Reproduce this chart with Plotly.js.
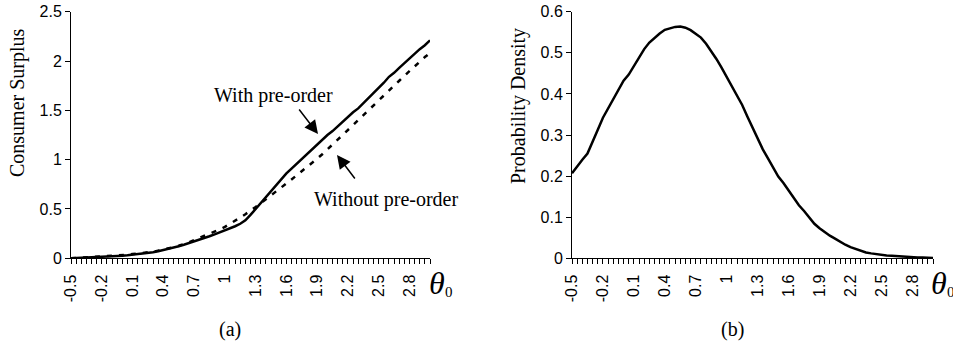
<!DOCTYPE html>
<html>
<head>
<meta charset="utf-8">
<script src="https://cdn.plot.ly/plotly-3.0.1.min.js"></script>
<style>html,body{margin:0;padding:0;background:#fff;}#chart{width:953px;height:345px;}</style>
</head>
<body>
<div id="chart"></div>
<script>
// Category values of theta_0 (x axis)
var theta = [-0.5,-0.45,-0.4,-0.35,-0.3,-0.25,-0.2,-0.15,-0.1,-0.05,
  0,0.05,0.1,0.15,0.2,0.25,0.3,0.35,0.4,0.45,
  0.5,0.55,0.6,0.65,0.7,0.75,0.8,0.85,0.9,0.95,
  1,1.05,1.1,1.15,1.2,1.25,1.3,1.35,1.4,1.45,
  1.5,1.55,1.6,1.65,1.7,1.75,1.8,1.85,1.9,1.95,
  2,2.05,2.1,2.15,2.2,2.25,2.3,2.35,2.4,2.45,
  2.5,2.55,2.6,2.65,2.7,2.75,2.8,2.85,2.9,2.95,3];

// Tick labels (every sixth category is labelled)
var tickLabelVals = [-0.5,-0.2,0.1,0.4,0.7,1,1.3,1.6,1.9,2.2,2.5,2.8];
var tickLabelText = ["-0.5","-0.2","0.1","0.4","0.7","1","1.3","1.6","1.9","2.2","2.5","2.8"];

// (a) Consumer surplus with pre-order (solid)
var withPreorder = [0.000,0.002,0.004,0.006,0.008,0.010,0.012,0.015,0.018,0.022,
  0.026,0.030,0.035,0.040,0.046,0.053,0.062,0.072,0.083,0.095,
  0.108,0.122,0.137,0.153,0.170,0.187,0.205,0.224,0.243,0.262,
  0.282,0.303,0.325,0.350,0.385,0.440,0.500,0.570,0.630,0.690,
  0.750,0.800,0.860,0.910,0.960,1.000,1.050,1.100,1.150,1.200,
  1.250,1.290,1.340,1.390,1.430,1.480,1.520,1.570,1.620,1.670,
  1.720,1.780,1.840,1.880,1.930,1.980,2.020,2.070,2.120,2.160,2.210];

// (a) Consumer surplus without pre-order (dashed)
var withoutPreorder = [0.000,0.003,0.005,0.007,0.010,0.012,0.015,0.019,0.023,0.027,
  0.032,0.037,0.043,0.049,0.053,0.058,0.067,0.078,0.087,0.098,
  0.112,0.127,0.143,0.163,0.185,0.205,0.225,0.246,0.268,0.292,
  0.318,0.347,0.380,0.413,0.447,0.480,0.520,0.560,0.598,0.637,
  0.677,0.717,0.758,0.799,0.840,0.882,0.924,0.967,1.010,1.055,
  1.108,1.155,1.203,1.251,1.300,1.350,1.400,1.450,1.500,1.550,
  1.600,1.650,1.700,1.750,1.800,1.850,1.900,1.950,2.000,2.040,2.080];

// (b) Probability density
var density = [0.207,0.225,0.240,0.255,0.282,0.313,0.342,0.365,0.385,0.408,
  0.432,0.447,0.467,0.488,0.509,0.525,0.537,0.547,0.556,0.560,
  0.563,0.564,0.561,0.555,0.547,0.537,0.522,0.505,0.485,0.464,
  0.441,0.416,0.393,0.373,0.345,0.317,0.290,0.265,0.243,0.220,
  0.199,0.183,0.165,0.147,0.129,0.115,0.099,0.084,0.073,0.063,
  0.055,0.048,0.040,0.033,0.027,0.023,0.018,0.014,0.012,0.010,
  0.008,0.007,0.006,0.005,0.004,0.003,0.003,0.002,0.002,0.001,0.001];

var W = 953, H = 345;
function px(x){ return x / W; }
function py(y){ return 1 - y / H; }

// tick marks at every category, text only on labelled ones
var tickText = theta.map(function(t){
  var i = tickLabelVals.indexOf(t);
  return i >= 0 ? tickLabelText[i] : "";
});

var tickFont = {family: "Liberation Sans, Arial, sans-serif", size: 16, color: "#000"};
var serif = "Liberation Serif, Times New Roman, serif";

function xaxisDef(domain, anchor){
  return {
    domain: domain, anchor: anchor, range: [-0.5, 3.0],
    tickmode: "array", tickvals: theta, ticktext: tickText,
    tickangle: -90, ticks: "outside", ticklen: 5, tickwidth: 1, tickcolor: "#000",
    ticklabelstandoff: 4,
    showline: true, linecolor: "#000", linewidth: 1,
    showgrid: false, zeroline: false, tickfont: tickFont, fixedrange: true
  };
}
function yaxisDef(range, dtick, anchor){
  return {
    domain: [py(258.3), py(11.7)], anchor: anchor, range: range,
    tickmode: "linear", tick0: 0, dtick: dtick,
    ticks: "outside", ticklen: 5, tickwidth: 1, tickcolor: "#000",
    showline: true, linecolor: "#000", linewidth: 1,
    showgrid: false, zeroline: false, tickfont: tickFont, fixedrange: true
  };
}

var traces = [
  {x: theta, y: withPreorder, xaxis: "x", yaxis: "y", type: "scatter", mode: "lines",
   line: {color: "#000", width: 2.5}, hoverinfo: "skip"},
  {x: theta, y: withoutPreorder, xaxis: "x", yaxis: "y", type: "scatter", mode: "lines",
   line: {color: "#000", width: 2.5, dash: "5px,7px"}, hoverinfo: "skip"},
  {x: theta, y: density, xaxis: "x2", yaxis: "y2", type: "scatter", mode: "lines",
   line: {color: "#000", width: 2.5}, hoverinfo: "skip"}
];

function txt(x, y, text, size, extra){
  var a = {xref: "paper", yref: "paper", x: px(x), y: py(y), text: text,
    showarrow: false, xanchor: "center", yanchor: "middle",
    font: {family: serif, size: size, color: "#000"}};
  for (var k in extra) a[k] = extra[k];
  return a;
}
function arrow(hx, hy, tx, ty){
  return {xref: "paper", yref: "paper", x: px(hx), y: py(hy), text: "",
    showarrow: true, ax: tx - hx, ay: ty - hy, axref: "pixel", ayref: "pixel",
    arrowhead: 2, arrowsize: 1.8, arrowwidth: 1.5, arrowcolor: "#000"};
}

var layout = {
  width: W, height: H, margin: {l: 0, r: 0, t: 0, b: 0},
  paper_bgcolor: "#fff", plot_bgcolor: "#fff", showlegend: false,
  xaxis: xaxisDef([px(71), px(430)], "y"),
  yaxis: yaxisDef([0, 2.5], 0.5, "x"),
  xaxis2: xaxisDef([px(572), px(933)], "y2"),
  yaxis2: yaxisDef([0, 0.6], 0.1, "x2"),
  annotations: [
    txt(17, 103, "Consumer Surplus", 20, {textangle: -90}),
    txt(518, 106, "Probability Density", 20, {textangle: -90}),
    txt(273, 95, "With pre-order", 20),
    txt(386, 199, "Without pre-order", 20),
    arrow(318, 134, 298, 108),
    arrow(337, 155, 356, 180),
    txt(437, 283, "<i>θ</i>", 32),
    txt(449, 292, "0", 15),
    txt(939, 283, "<i>θ</i>", 32),
    txt(951, 292, "0", 15),
    txt(230, 329, "(a)", 20),
    txt(732, 329, "(b)", 20)
  ]
};

Plotly.newPlot("chart", traces, layout, {displayModeBar: false, staticPlot: true});
</script>
</body>
</html>
